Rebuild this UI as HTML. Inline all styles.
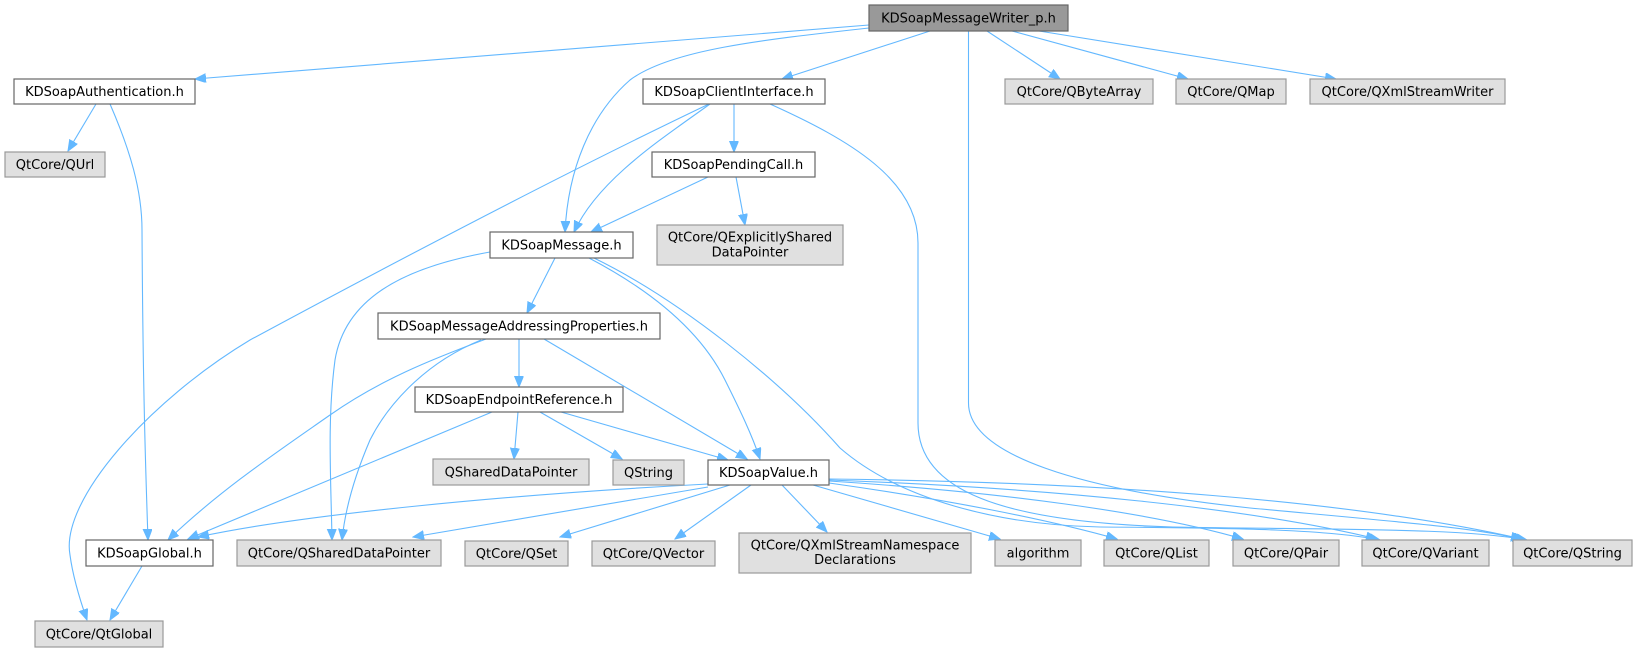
<!DOCTYPE html>
<html>
<head>
<meta charset="utf-8">
<style>
html,body{margin:0;padding:0;background:#fff;}
svg{display:block;}
text{font-family:"DejaVu Sans","Liberation Sans",sans-serif;font-size:13px;fill:#000;}
.w{fill:#fff;stroke:#666;stroke-width:1.2;}
.g{fill:#e0e0e0;stroke:#999;stroke-width:1.2;}
.r{fill:#999;stroke:#666;stroke-width:1.2;}
.e{fill:none;stroke:#63b8ff;stroke-width:1.1;}
</style>
</head>
<body>
<svg width="1637" height="652" viewBox="0 0 1637 652" xmlns="http://www.w3.org/2000/svg">
<defs>
<marker id="a" markerWidth="12" markerHeight="10" refX="11" refY="4.5" orient="auto" markerUnits="userSpaceOnUse">
<path d="M0,0 L11,4.5 L0,9 z" fill="#63b8ff" stroke="#63b8ff" stroke-width="1"/>
</marker>
</defs>
<g class="edges">
<path class="e" marker-end="url(#a)" d="M869,25 L195,79"/>
<path class="e" marker-end="url(#a)" d="M869,28 C760,40 670,50 630,80 C590,115 568,170 565,232"/>
<path class="e" marker-end="url(#a)" d="M930,31 L782,79"/>
<path class="e" marker-end="url(#a)" d="M987,31 L1060,79"/>
<path class="e" marker-end="url(#a)" d="M1012,31 L1188,79"/>
<path class="e" marker-end="url(#a)" d="M1039,31 L1336,79"/>
<path class="e" marker-end="url(#a)" d="M968.5,31 L968.5,403 C968.5,455 1080,490 1250,508 C1400,522 1480,528 1524,540"/>
<path class="e" marker-end="url(#a)" d="M734,104 L734,152"/>
<path class="e" marker-end="url(#a)" d="M710,104 C660,140 598,180 574,232"/>
<path class="e" marker-end="url(#a)" d="M709,104 C560,175 380,270 250,340 C150,400 60,500 70,555 C73,578 80,600 87,620"/>
<path class="e" marker-end="url(#a)" d="M770,104 C850,140 918,180 918,243 L918,423 C918,490 1000,522 1173,527 C1350,530 1460,528 1527,540"/>
<path class="e" marker-end="url(#a)" d="M708,177 L591,232"/>
<path class="e" marker-end="url(#a)" d="M736,177 L745,225"/>
<path class="e" marker-end="url(#a)" d="M555,258 L527,313"/>
<path class="e" marker-end="url(#a)" d="M490,252 C400,268 345,300 335,360 C327,420 331,480 332,540"/>
<path class="e" marker-end="url(#a)" d="M589,258 C650,290 700,330 725,380 C740,410 752,435 760,459"/>
<path class="e" marker-end="url(#a)" d="M594,258 C680,300 780,380 840,448 C900,500 1000,525 1100,527 C1250,528 1330,530 1380,540"/>
<path class="e" marker-end="url(#a)" d="M519,339 L519,387"/>
<path class="e" marker-end="url(#a)" d="M486,339 C430,360 380,380 330,415 C280,450 220,490 168,540"/>
<path class="e" marker-end="url(#a)" d="M481,340 C420,365 385,410 370,440 C355,475 345,510 342,540"/>
<path class="e" marker-end="url(#a)" d="M544,339 L747,459"/>
<path class="e" marker-end="url(#a)" d="M96,104 L68,151"/>
<path class="e" marker-end="url(#a)" d="M110,104 C130,150 142,190 142,230 C143,400 146,480 148,540"/>
<path class="e" marker-end="url(#a)" d="M492,412 L188,539"/>
<path class="e" marker-end="url(#a)" d="M518,412 L514,459"/>
<path class="e" marker-end="url(#a)" d="M540,412 L622,459"/>
<path class="e" marker-end="url(#a)" d="M561,412 L728,460"/>
<path class="e" marker-end="url(#a)" d="M708,484 C500,495 300,515 198,537"/>
<path class="e" marker-end="url(#a)" d="M708,487 L413,537"/>
<path class="e" marker-end="url(#a)" d="M730,485 L560,537"/>
<path class="e" marker-end="url(#a)" d="M751,485 L675,539"/>
<path class="e" marker-end="url(#a)" d="M782,485 L827,532"/>
<path class="e" marker-end="url(#a)" d="M813,485 L1000,539"/>
<path class="e" marker-end="url(#a)" d="M829,483 C950,500 1050,520 1117,539"/>
<path class="e" marker-end="url(#a)" d="M829,481 C1000,492 1150,512 1243,539"/>
<path class="e" marker-end="url(#a)" d="M829,480 C1050,488 1250,508 1377,539"/>
<path class="e" marker-end="url(#a)" d="M829,479 C1100,482 1350,500 1522,539"/>
<path class="e" marker-end="url(#a)" d="M142,566 L110,620"/>
</g>
<g class="nodes">
<rect class="r" x="869" y="5" width="199" height="26"/>
<text x="968.5" y="22.5" text-anchor="middle">KDSoapMessageWriter_p.h</text>

<rect class="w" x="14" y="79" width="181" height="25"/>
<text x="104.5" y="96" text-anchor="middle">KDSoapAuthentication.h</text>

<rect class="w" x="643" y="79" width="182" height="25"/>
<text x="734" y="96" text-anchor="middle">KDSoapClientInterface.h</text>

<rect class="g" x="1005" y="79" width="148" height="25"/>
<text x="1079" y="96" text-anchor="middle">QtCore/QByteArray</text>

<rect class="g" x="1176" y="79" width="110" height="25"/>
<text x="1231" y="96" text-anchor="middle">QtCore/QMap</text>

<rect class="g" x="1310" y="79" width="195" height="25"/>
<text x="1407.5" y="96" text-anchor="middle">QtCore/QXmlStreamWriter</text>

<rect class="g" x="5" y="152" width="100" height="25"/>
<text x="55" y="169" text-anchor="middle">QtCore/QUrl</text>

<rect class="w" x="652" y="152" width="163" height="25"/>
<text x="733.5" y="169" text-anchor="middle">KDSoapPendingCall.h</text>

<rect class="w" x="490" y="232" width="143" height="26"/>
<text x="561.5" y="249.5" text-anchor="middle">KDSoapMessage.h</text>

<rect class="g" x="657" y="225" width="186" height="40"/>
<text x="750" y="241.5" text-anchor="middle">QtCore/QExplicitlyShared</text>
<text x="750" y="256.5" text-anchor="middle">DataPointer</text>

<rect class="w" x="378" y="313" width="282" height="26"/>
<text x="519" y="330.5" text-anchor="middle">KDSoapMessageAddressingProperties.h</text>

<rect class="w" x="415" y="387" width="208" height="25"/>
<text x="519" y="404" text-anchor="middle">KDSoapEndpointReference.h</text>

<rect class="g" x="433" y="459" width="156" height="26"/>
<text x="511" y="476.5" text-anchor="middle">QSharedDataPointer</text>

<rect class="g" x="613" y="460" width="71" height="25"/>
<text x="648.5" y="477" text-anchor="middle">QString</text>

<rect class="w" x="708" y="460" width="121" height="25"/>
<text x="768.5" y="477" text-anchor="middle">KDSoapValue.h</text>

<rect class="w" x="86" y="540" width="127" height="26"/>
<text x="149.5" y="557.5" text-anchor="middle">KDSoapGlobal.h</text>

<rect class="g" x="237" y="540" width="204" height="26"/>
<text x="339" y="557.5" text-anchor="middle">QtCore/QSharedDataPointer</text>

<rect class="g" x="465" y="541" width="103" height="25"/>
<text x="516.5" y="558" text-anchor="middle">QtCore/QSet</text>

<rect class="g" x="592" y="541" width="123" height="25"/>
<text x="653.5" y="558" text-anchor="middle">QtCore/QVector</text>

<rect class="g" x="739" y="533" width="232" height="40"/>
<text x="855" y="549.5" text-anchor="middle">QtCore/QXmlStreamNamespace</text>
<text x="855" y="564" text-anchor="middle">Declarations</text>

<rect class="g" x="995" y="540" width="86" height="26"/>
<text x="1038" y="557.5" text-anchor="middle">algorithm</text>

<rect class="g" x="1104" y="540" width="105" height="26"/>
<text x="1156.5" y="557.5" text-anchor="middle">QtCore/QList</text>

<rect class="g" x="1233" y="540" width="106" height="26"/>
<text x="1286" y="557.5" text-anchor="middle">QtCore/QPair</text>

<rect class="g" x="1362" y="540" width="127" height="26"/>
<text x="1425.5" y="557.5" text-anchor="middle">QtCore/QVariant</text>

<rect class="g" x="1513" y="540" width="119" height="26"/>
<text x="1572.5" y="557.5" text-anchor="middle">QtCore/QString</text>

<rect class="g" x="35" y="621" width="128" height="26"/>
<text x="99" y="638.5" text-anchor="middle">QtCore/QtGlobal</text>
</g>
</svg>
</body>
</html>
